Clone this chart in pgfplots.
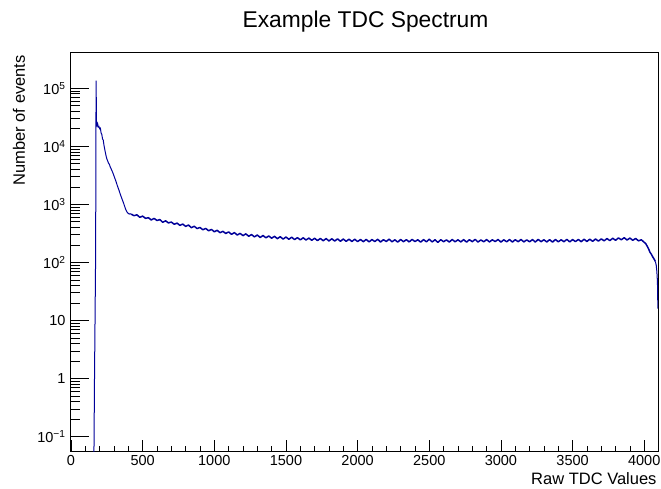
\documentclass[border=0pt]{standalone}
\usepackage{pgfplots}
\pgfplotsset{compat=1.18}
\usepackage{fontspec}
\setmainfont{Liberation Sans}
\definecolor{rootblue}{RGB}{0,0,153}

\begin{document}
\begin{tikzpicture}[x=1pt,y=1pt]
\useasboundingbox (-71,-37) rectangle (590,452);
\begin{axis}[
  at={(0,0)}, anchor=south west,
  scale only axis,
  width=587pt, height=399pt,
  ymode=log,
  xmin=0, xmax=4096,
  ymin=0.0545, ymax=4.05e5,
  xtick={0,500,...,4000},
  minor x tick num=4,
  ytick={0.1,1,10,100,1000,10000,100000},
  yticklabels={10\textsuperscript{−1},1,10,10\textsuperscript{2},10\textsuperscript{3},10\textsuperscript{4},10\textsuperscript{5}},
  tick align=inside,
  xtick pos=bottom, ytick pos=left,
  major x tick style={/pgfplots/major tick length=12pt},
  minor x tick style={/pgfplots/minor tick length=6pt},
  major y tick style={/pgfplots/major tick length=17.5pt},
  minor y tick style={/pgfplots/minor tick length=9pt},
  tick style={black, line width=0.8pt},
  axis line style={black, line width=1pt},
  /pgf/number format/1000 sep={},
  /pgf/number format/assume math mode=true,
  xticklabel style={font=\fontsize{14.5}{14.5}\selectfont},
  yticklabel style={font=\fontsize{14.5}{14.5}\selectfont, xshift=-2pt},
]
% rising edge and fast decay
\addplot[rootblue, line width=1pt] coordinates {
(150,0.01)(158,0.01)(164,1)(168,12)(172,150)(175,135000)(178,26000)
(182,23000)(186,24500)(190,21500)(195,22000)(200,20000)(205,20500)
(210,17000)(215,16000)(220,13500)(225,12800)(230,10500)(235,9000)
(240,7800)(245,6800)(250,6100)(256,5600)(262,5100)(268,4900)(274,4400)
(280,4100)(286,3800)(292,3500)(298,3200)(304,2900)(310,2650)(316,2400)
(322,2150)(328,1950)(334,1780)(340,1600)(346,1450)(352,1320)(358,1200)
(364,1100)(370,1000)(376,900)(382,820)(388,760)(394,720)(400,700)
(406,680)(412,690)(420,680)
};
% noisy plateau
\addplot[rootblue, line width=1.5pt, line join=round] coordinates {
(420,680)(440,640)(460,662)(480,600)(500,628)(520,575)(540,590)(560,540)
(580,574)(600,528)(620,548)(640,492)(660,522)(680,480)(700,497)(720,455)
(740,476)(760,436)(780,458)(800,418)(820,441)(840,397)(860,420)(880,384)
(900,401)(920,366)(940,386)(960,352)(980,371)(1000,338)(1020,358)(1040,326)
(1060,344)(1080,316)(1100,336)(1120,305)(1140,327)(1160,297)(1180,317)(1200,290)
(1220,311)(1240,283)(1260,302)(1280,276)(1300,297)(1320,270)(1340,291)(1360,266)
(1380,286)(1400,262)(1420,282)(1440,257)(1460,278)(1480,253)(1500,274)(1520,251)
(1540,272)(1560,248)(1580,268)(1600,245)(1620,266)(1640,244)(1660,263)(1680,241)
(1700,261)(1720,238)(1740,259)(1760,237)(1780,258)(1800,235)(1820,256)(1840,234)
(1860,255)(1880,232)(1900,253)(1920,231)(1940,252)(1960,230)(1980,251)(2000,229)
(2020,249)(2040,228)(2060,250)(2080,226)(2100,248)(2120,229)(2140,251)(2160,225)
(2180,247)(2200,230)(2220,252)(2240,227)(2260,246)(2280,224)(2300,249)(2320,228)
(2340,247)(2360,226)(2380,250)(2400,229)(2420,246)(2440,224)(2460,248)(2480,227)
(2500,251)(2520,226)(2540,246)(2560,222)(2580,247)(2600,228)(2620,245)(2640,225)
(2660,249)(2680,227)(2700,246)(2720,226)(2740,248)(2760,224)(2780,247)(2800,228)
(2820,250)(2840,225)(2860,245)(2880,227)(2900,248)(2920,226)(2940,246)(2960,229)
(2980,249)(3000,224)(3020,246)(3040,227)(3060,248)(3080,225)(3100,247)(3120,228)
(3140,249)(3160,226)(3180,245)(3200,227)(3220,248)(3240,225)(3260,250)(3280,228)
(3300,246)(3320,226)(3340,247)(3360,224)(3380,249)(3400,227)(3420,246)(3440,228)
(3460,250)(3480,226)(3500,248)(3520,229)(3540,249)(3560,228)(3580,251)(3600,230)
(3620,252)(3640,231)(3660,254)(3680,233)(3700,255)(3720,236)(3740,258)(3760,238)
(3780,261)(3800,241)(3820,265)(3840,246)(3860,267)(3880,244)(3900,263)(3920,241)
(3940,259)(3960,236)(3980,246)(4000,222)(4010,212)(4020,192)(4030,172)(4040,150)
(4050,138)(4060,124)(4070,113)(4078,104)
};
% falling edge
\addplot[rootblue, line width=1pt] coordinates {
(4078,104)(4084,88)(4088,70)(4091,52)(4093,38)(4095,16)
};
\end{axis}
\node[anchor=base, font=\fontsize{22.8}{22.8}\selectfont] at (294.5,424.3) {Example TDC Spectrum};
\node[anchor=base east, inner sep=0pt, font=\fontsize{16.5}{16.5}\selectfont] at (585.7,-33) {Raw TDC Values};
\node[anchor=base east, rotate=90, inner sep=0pt, font=\fontsize{16.5}{16.5}\selectfont] at (-46,397) {Number of events};
\end{tikzpicture}
\end{document}
